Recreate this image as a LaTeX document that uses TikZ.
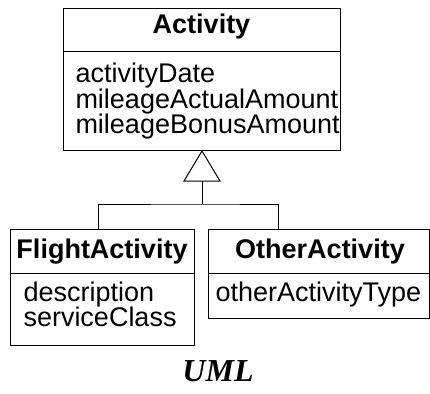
\documentclass[tikz,border=0pt]{standalone}
\usepackage{fontspec}
\setmainfont{Liberation Sans}
\newfontfamily\umlfont{Liberation Serif}
\usetikzlibrary{calc}
\begin{document}
\begin{tikzpicture}[x=1pt, y=-1pt, line width=1pt,
  classbox/.style={draw, rectangle, inner sep=0pt, anchor=north west},
  classname/.style={anchor=base, inner sep=0pt, font=\fontsize{27}{25}\selectfont\bfseries},
  attr/.style={anchor=base west, inner sep=0pt, font=\fontsize{27}{25}\selectfont},
  gen/.style={draw, line width=1pt}]
  \useasboundingbox (0,0) rectangle (430,393);

  % Superclass
  \node[classbox, minimum width=277pt, minimum height=142pt] (act) at (63,8) {};
  \path (act.north west) ++(0,44) coordinate (actdiv);
  \draw (actdiv) -- (actdiv -| act.east);
  \node[classname] (actname) at (201.5,34) {Activity};
  \node[attr] (act1) at (75,83) {activityDate};
  \node[attr] (act2) at (75,108) {mileageActualAmount};
  \node[attr] (act3) at (75,133) {mileageBonusAmount};

  % Subclasses
  \node[classbox, minimum width=184pt, minimum height=116pt] (fa) at (10,229) {};
  \path (fa.north west) ++(0,44) coordinate (fadiv);
  \draw (fadiv) -- (fadiv -| fa.east);
  \node[classname] (faname) at (102,258) {FlightActivity};
  \node[attr] (fa1) at (23,301) {description};
  \node[attr] (fa2) at (23,326) {serviceClass};

  \node[classbox, minimum width=221pt, minimum height=89pt] (oa) at (208,229) {};
  \path (oa.north west) ++(0,44) coordinate (oadiv);
  \draw (oadiv) -- (oadiv -| oa.east);
  \node[classname] (oaname) at (320,258) {OtherActivity};
  \node[attr] (oa1) at (215,301) {otherActivityType};

  % Generalization
  \draw[gen] (act.south) -- ++(-18,30) coordinate (tl) -- ++(36,0) coordinate (tr) -- cycle;
  \coordinate (tm) at ($(tl)!0.5!(tr)$);
  \coordinate (junction) at ($(tm)+(0,23)$);
  \coordinate (faend) at ($(fa.north west)+(88,0)$);
  \coordinate (oaend) at ($(oa.north west)+(70,0)$);
  \draw[gen] (tm) -- (junction);
  \draw[gen] (faend) |- (junction) -| (oaend);

  % Caption
  \node[inner sep=0pt, anchor=base, font=\fontsize{32}{32}\umlfont\bfseries\itshape] (caption) at (218,381) {UML};
\end{tikzpicture}
\end{document}
